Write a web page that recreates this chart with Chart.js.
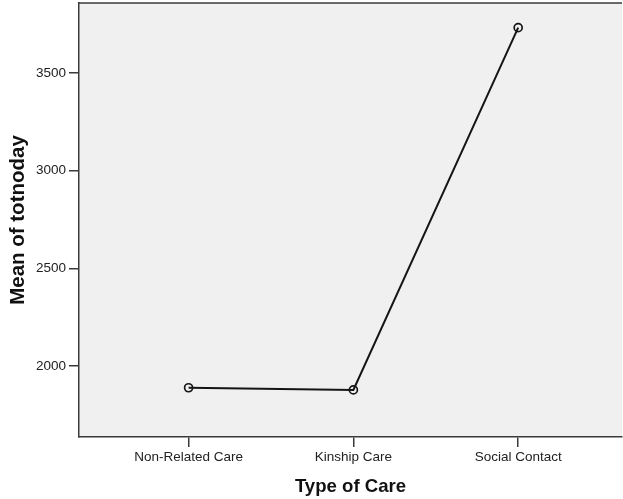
<!DOCTYPE html>
<html>
<head>
<meta charset="utf-8">
<script src="https://cdn.jsdelivr.net/npm/chart.js@4/dist/chart.umd.min.js"></script>
<style>
html,body{margin:0;padding:0;background:#fff;}
#wrap{width:623px;height:499px;}
</style>
</head>
<body>
<div id="wrap"><canvas id="c" width="623" height="499"></canvas></div>
<script>
const categories = ["Non-Related Care", "Kinship Care", "Social Contact"];
const meanTotnoday = [1890, 1879, 3732];
const yTicks = [2000, 2500, 3000, 3500];
const yTitle = "Mean of totnoday";
const xTitle = "Type of Care";

const plotFrame = {
  id: 'plotFrame',
  beforeDraw(chart) {
    const {ctx, chartArea: a} = chart;
    ctx.save();
    ctx.fillStyle = '#f0f0f0';
    ctx.fillRect(a.left, a.top, a.right - a.left, a.bottom - a.top);
    ctx.strokeStyle = '#3a3a3a';
    ctx.lineWidth = 1.5;
    ctx.beginPath();
    ctx.moveTo(a.left, a.top);
    ctx.lineTo(a.right, a.top);
    ctx.stroke();
    ctx.restore();
  }
};

const FONT = 'Liberation Sans, Arial, sans-serif';

new Chart(document.getElementById('c'), {
  type: 'line',
  data: {
    datasets: [{
      data: meanTotnoday.map((v, i) => ({x: i, y: v})),
      borderColor: '#151515',
      borderWidth: 2,
      pointRadius: 4,
      pointBorderWidth: 1.7,
      pointBorderColor: '#151515',
      pointBackgroundColor: 'rgba(0,0,0,0)',
      tension: 0
    }]
  },
  options: {
    responsive: false,
    animation: false,
    layout: {autoPadding: false, padding: {top: 3, right: 1, left: 0, bottom: 0}},
    plugins: {legend: {display: false}, tooltip: {enabled: false}},
    scales: {
      x: {
        type: 'linear',
        min: -0.665,
        max: 2.63,
        afterBuildTicks: s => { s.ticks = categories.map((c, i) => ({value: i})); },
        afterFit: s => { s.height = 62; s.paddingLeft = 0; s.paddingRight = 0; },
        grid: {display: true, drawOnChartArea: false, drawTicks: true, tickLength: 10, color: '#3a3a3a', lineWidth: 1.5},
        border: {display: true, color: '#3a3a3a', width: 1.5},
        ticks: {
          autoSkip: false, maxRotation: 0, padding: 2,
          color: '#222', font: {family: FONT, size: 13.5},
          callback: v => categories[v]
        },
        title: {display: true, text: xTitle, color: '#111', padding: {top: 0, bottom: 1},
          font: {family: FONT, size: 18.6, weight: 'bold'}}
      },
      y: {
        min: 1638,
        max: 3858,
        afterBuildTicks: s => { s.ticks = yTicks.map(v => ({value: v})); },
        afterFit: s => { s.width = 79; s.paddingTop = 0; s.paddingBottom = 0; },
        grid: {display: true, drawOnChartArea: false, drawTicks: true, tickLength: 10, color: '#3a3a3a', lineWidth: 1.5},
        border: {display: true, color: '#3a3a3a', width: 1.5},
        ticks: {
          padding: 3, color: '#222',
          font: {family: FONT, size: 13.5},
          callback: v => String(v)
        },
        title: {display: true, text: yTitle, color: '#111', padding: {top: 6, bottom: 0},
          font: {family: FONT, size: 20.5, weight: 'bold'}}
      }
    }
  },
  plugins: [plotFrame]
});
</script>
</body>
</html>
